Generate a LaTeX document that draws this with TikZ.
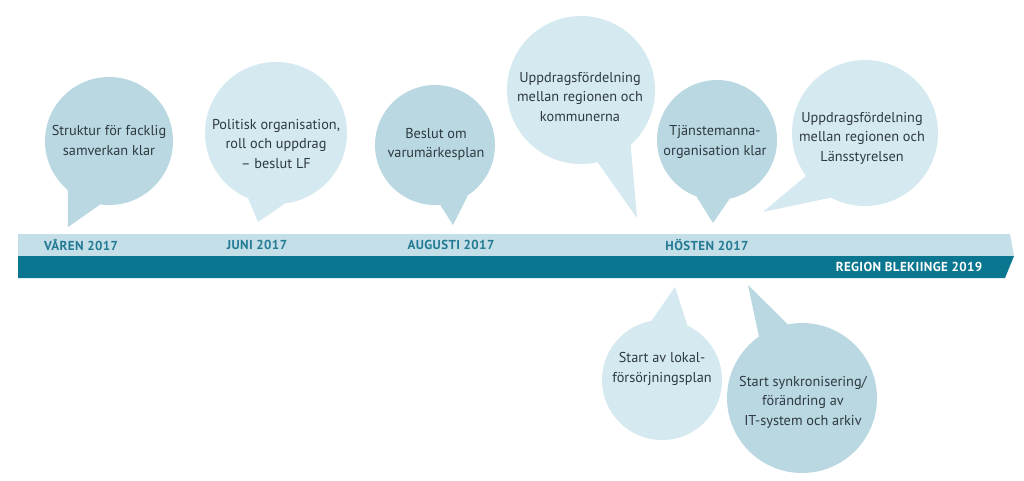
\documentclass[tikz,border=0pt]{standalone}
\usepackage{fontspec}
\setmainfont{PT Sans}
\newfontfamily\bandfont[LetterSpace=3]{PT Sans}
\definecolor{bandlight}{HTML}{C4DFE8}
\definecolor{banddark}{HTML}{0A7690}
\definecolor{bubA}{HTML}{BAD8E2}
\definecolor{bubB}{HTML}{D5E9F0}
\definecolor{txtc}{HTML}{2E3A40}
\definecolor{bandtxt}{HTML}{237A93}
\begin{document}
\begin{tikzpicture}[x=1pt,y=-1pt,
  bubble/.style={circle,inner sep=0pt,minimum size=#1},
  btext/.style={align=center,text=txtc,font=\fontsize{14.3}{19.5}\selectfont,inner sep=0pt},
  bandlabel/.style={text=bandtxt,font=\bandfont\bfseries\fontsize{13}{14}\selectfont,inner sep=0pt},
  darklabel/.style={text=white,font=\bandfont\bfseries\fontsize{13}{14}\selectfont,inner sep=0pt}]
\path[use as bounding box,fill=white] (0,0) rectangle (1024,480);
% band
\fill[bandlight] (18,234) -- (1010,234) -- (1014,256) -- (18,256) -- cycle;
\fill[banddark] (18,256) -- (1014,256) -- (1005,278) -- (18,278) -- cycle;
\node[bandlabel] (v1) at (81,245) {VÅREN 2017};
\node[bandlabel] (v2) at (257,245) {JUNI 2017};
\node[bandlabel] (v3) at (451,245) {AUGUSTI 2017};
\node[bandlabel] (v4) at (707,245) {HÖSTEN 2017};
\node[darklabel] (v5) at (909,267) {REGION BLEKIINGE 2019};
% bubble 1
\node[bubble=128pt,fill=bubA] (b1) at (109,141) {};
\coordinate (t1) at (68,227);
\fill[bubA] (t1) -- (b1.230) -- (b1.262) -- cycle;
\node[btext] (l1) at (109,140.5) {Struktur för facklig\\samverkan klar};
% bubble 2
\node[bubble=142pt,fill=bubB] (b2) at (276,133) {};
\coordinate (t2) at (258,222);
\fill[bubB] (t2) -- (b2.247) -- (b2.277) -- cycle;
\node[btext] (l2) at (276,144) {Politisk organisation,\\roll och uppdrag\\– beslut LF};
% bubble 3
\node[bubble=120pt,fill=bubA] (b3) at (435,145) {};
\coordinate (t3) at (453,225);
\fill[bubA] (t3) -- (b3.275) -- (b3.303) -- cycle;
\node[btext] (l3) at (436,144.5) {Beslut om\\varumärkesplan};
% bubble 4
\node[bubble=148pt,fill=bubB] (b4) at (581,90) {};
\coordinate (t4) at (637,218);
\fill[bubB] (t4) -- (b4.283) -- (b4.312) -- cycle;
\node[btext] (l4) at (580,97) {Uppdragsfördelning\\mellan regionen och\\kommunerna};
% bubble 5
\node[bubble=120pt,fill=bubA] (b5) at (717,140) {};
\coordinate (t5) at (713,223);
\fill[bubA] (t5) -- (b5.250) -- (b5.282) -- cycle;
\node[btext] (l5) at (715,142) {Tjänstemanna-\\organisation klar};
% bubble 6
\node[bubble=146pt,fill=bubB] (b6) at (865,133) {};
\coordinate (t6) at (763,212);
\fill[bubB] (t6) -- (b6.216) -- (b6.242) -- cycle;
\node[btext] (l6) at (862,138) {Uppdragsfördelning\\mellan regionen och\\Länsstyrelsen};
% bubble 7
\node[bubble=120pt,fill=bubB] (b7) at (662,380) {};
\coordinate (t7) at (675,287);
\fill[bubB] (t7) -- (b7.65) -- (b7.100) -- cycle;
\node[btext] (l7) at (662,369) {Start av lokal-\\försörjningsplan};
% bubble 8
\node[bubble=150pt,fill=bubA] (b8) at (802,398) {};
\coordinate (t8) at (748,285);
\fill[bubA] (t8) -- (b8.101) -- (b8.125) -- cycle;
\node[btext] (l8) at (803,402) {Start synkronisering/\\förändring av\\IT-system och arkiv};
\end{tikzpicture}
\end{document}
